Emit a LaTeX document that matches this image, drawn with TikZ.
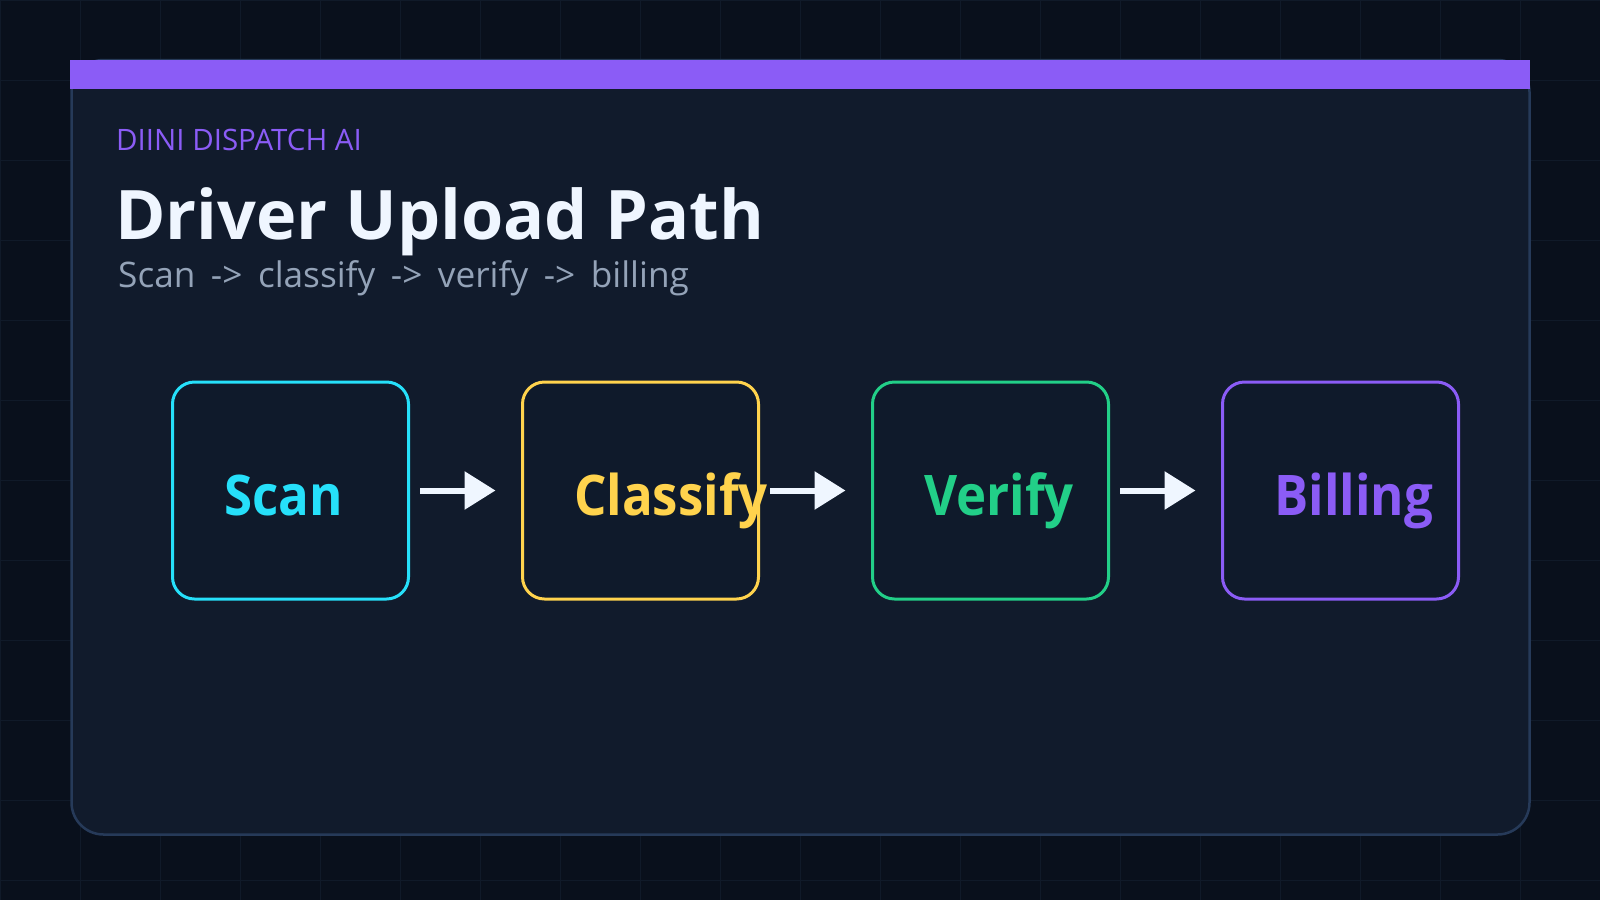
\documentclass[tikz,border=0pt]{standalone}
\usepackage{fontspec}
\setmainfont{Open Sans}
\newfontfamily\subfont{Open Sans}[WordSpace=1.7]
\newfontfamily\stagefont{Open Sans}[FakeStretch=0.91]
\usetikzlibrary{arrows.meta}
\definecolor{bgc}{HTML}{09101C}
\definecolor{gridc}{HTML}{101A29}
\definecolor{cardc}{HTML}{111B2C}
\definecolor{cardborder}{HTML}{263A59}
\definecolor{boxfill}{HTML}{0F1A2B}
\definecolor{purp}{HTML}{8B5CF6}
\definecolor{titlec}{HTML}{EFF6FF}
\definecolor{subc}{HTML}{94A3B8}
\definecolor{cyanc}{HTML}{26E0FA}
\definecolor{yellowc}{HTML}{FFD34D}
\definecolor{greenc}{HTML}{22CF88}
\definecolor{arrowc}{HTML}{EFF6FF}
\tikzset{
  stage/.style={draw, fill=boxfill, line width=3pt, rounded corners=22pt,
    minimum width=236pt, minimum height=217pt, inner sep=0pt},
  stagelabel/.style={anchor=base west, inner sep=0pt, font=\stagefont\bfseries\fontsize{56}{64}\selectfont},
  flow/.style={draw=arrowc, line width=6pt, -{Triangle[length=31pt,width=37pt]},
    shorten <=10pt, shorten >=25.5pt},
  textline/.style={anchor=base west, inner sep=0pt}
}
\begin{document}
\begin{tikzpicture}[x=1pt,y=-1pt]
\useasboundingbox (0,0) rectangle (1600,900);
\fill[bgc] (0,0) rectangle (1600,900);
\foreach \gx in {0,80,...,1600} \draw[gridc, line width=1pt] (\gx,0) -- (\gx,900);
\foreach \gy in {0,80,...,880} \draw[gridc, line width=1pt] (0,\gy) -- (1600,\gy);
% card
\draw[fill=cardc, draw=cardborder, line width=2.5pt, rounded corners=32pt] (71.5,60) rectangle (1529.5,834.5);
\fill[purp] (70,60) rectangle (1530,89);
% texts
\node[textline, text=purp, font=\fontsize{29.5}{34}\selectfont] (brand) at (116,150) {DIINI DISPATCH AI};
\node[textline, text=titlec, font=\bfseries\fontsize{68.3}{76}\selectfont] (title) at (115,239) {Driver Upload Path};
\node[textline, text=subc, font=\subfont\fontsize{35.2}{40}\selectfont] (sub) at (118,287) {Scan -> classify -> verify -> billing};
% stages
\node[stage, draw=cyanc] (scan) at (290.5,490.5) {};
\node[stage, draw=yellowc] (classify) at (640.5,490.5) {};
\node[stage, draw=greenc] (verify) at (990.5,490.5) {};
\node[stage, draw=purp] (billing) at (1340.5,490.5) {};
\node[stagelabel, text=cyanc] (scanl) at ([xshift=53pt,yshift=-24.5pt]scan.west) {Scan};
\node[stagelabel, text=yellowc] (classifyl) at ([xshift=53pt,yshift=-24.5pt]classify.west) {Classify};
\node[stagelabel, text=greenc] (verifyl) at ([xshift=53pt,yshift=-24.5pt]verify.west) {Verify};
\node[stagelabel, text=purp] (billingl) at ([xshift=53pt,yshift=-24.5pt]billing.west) {Billing};
% arrows
\draw[flow] (scan.east) -- (classify.west);
\draw[flow] (classify.east) -- (verify.west);
\draw[flow] (verify.east) -- (billing.west);
\end{tikzpicture}
\end{document}
